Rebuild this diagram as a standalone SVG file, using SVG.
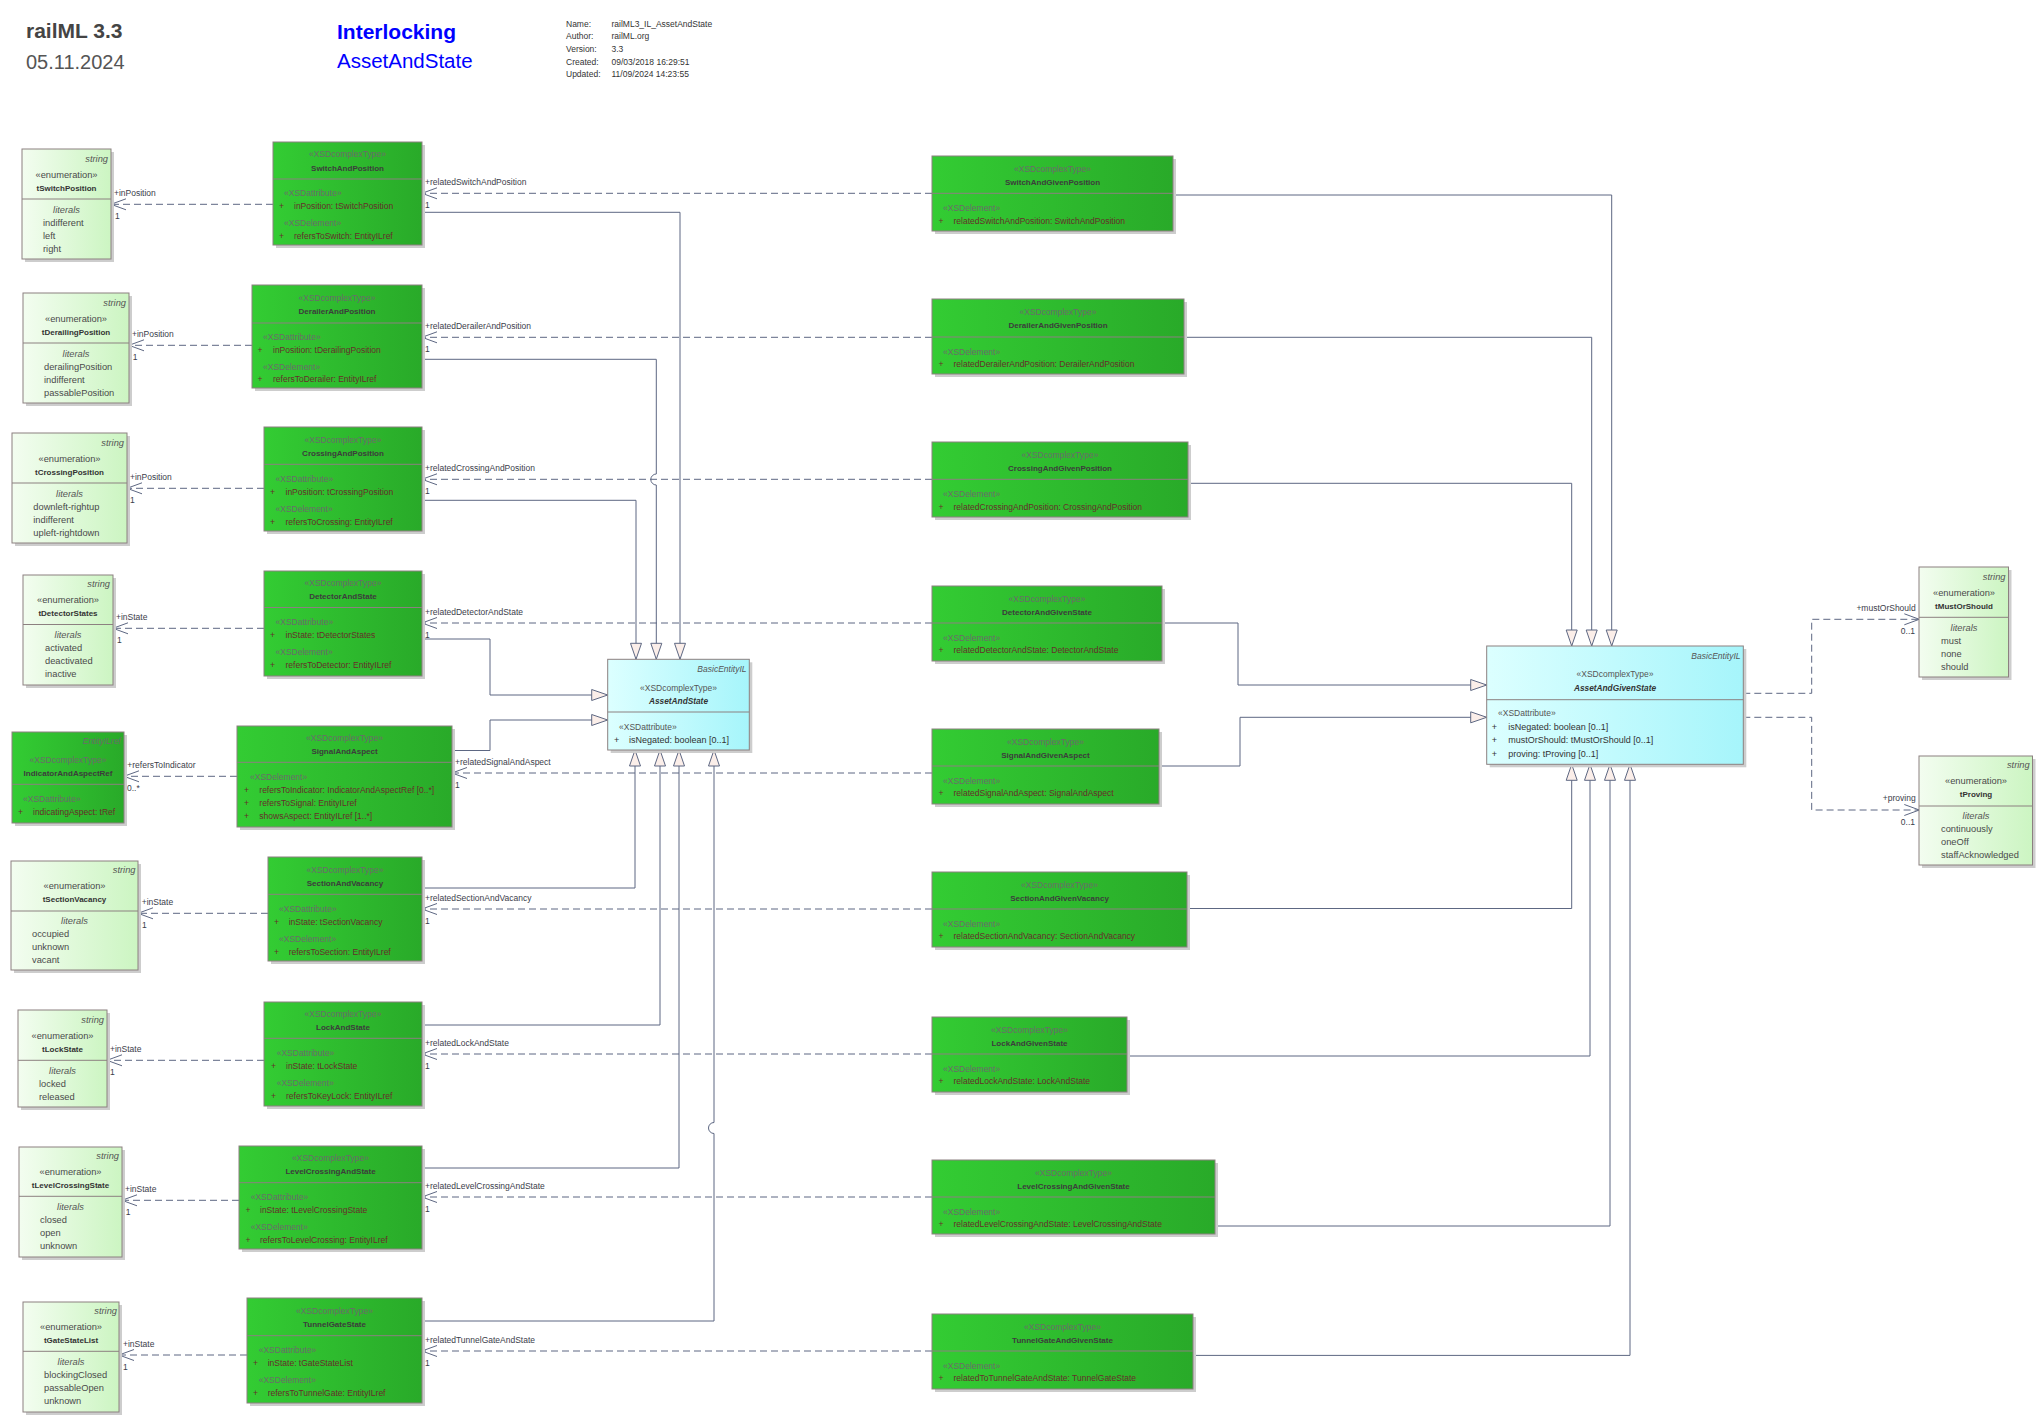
<svg xmlns="http://www.w3.org/2000/svg" width="2043" height="1422" viewBox="0 0 2043 1422">
<defs>
  <linearGradient id="gG" x1="0" y1="0" x2="1" y2="0">
    <stop offset="0" stop-color="#33cc33"/>
    <stop offset="1" stop-color="#29aa29"/>
  </linearGradient>
  <linearGradient id="gE" x1="0" y1="0" x2="1" y2="0">
    <stop offset="0" stop-color="#f3fdf0"/>
    <stop offset="1" stop-color="#ccf5c2"/>
  </linearGradient>
  <linearGradient id="gC" x1="0" y1="0" x2="1" y2="0">
    <stop offset="0" stop-color="#dcffff"/>
    <stop offset="1" stop-color="#a6f5fb"/>
  </linearGradient>
  <marker id="open" markerUnits="userSpaceOnUse" markerWidth="16" markerHeight="12" refX="15" refY="6" orient="auto" overflow="visible">
    <path d="M0,0.5 L15,6 L0,11.5" fill="none" stroke="#5d6782" stroke-width="1"/>
  </marker>
  <marker id="gen" markerUnits="userSpaceOnUse" markerWidth="16" markerHeight="12" refX="16" refY="5.5" orient="auto" overflow="visible">
    <path d="M0,0 L16,5.5 L0,11 Z" fill="#fbeee9" stroke="#5d6782" stroke-width="1"/>
  </marker>
  <style>
    text{font-family:"Liberation Sans",Arial,sans-serif}
    .sh{fill:#cdcdcd}
    .en{fill:url(#gE);stroke:#8c8080;stroke-width:1}
    .gr{fill:url(#gG);stroke:#8c8080;stroke-width:1}
    .cy{fill:url(#gC);stroke:#8c8080;stroke-width:1}
    .dv{stroke:#8c8080;stroke-width:1}
    .gs{font-size:8.5px;fill:#6b6b6b}
    .gn{font-size:8px;font-weight:bold;fill:#3c3c3c;text-anchor:middle}
    .ga{font-size:8.5px;fill:#662e2a}
    .c{text-anchor:middle}
    .r{text-anchor:end}
    .es{font-size:9.3px;fill:#555;font-style:italic}
    .et{font-size:9.3px;fill:#4a4a4a}
    .en2{font-size:8px;font-weight:bold;fill:#333;text-anchor:middle}
    .cs{font-size:8.5px;fill:#555}
    .cn{font-size:8.3px;font-weight:bold;font-style:italic;fill:#333;text-anchor:middle}
    .ct{font-size:9px;fill:#333}
    .lb{font-size:8.5px;fill:#3b3d4a}
    .dep{fill:none;stroke:#5d6782;stroke-width:1;stroke-dasharray:7 4;marker-end:url(#open)}
    .inh{fill:none;stroke:#5d6782;stroke-width:1;marker-end:url(#gen)}
    .hd1{font-size:21px;font-weight:bold;fill:#444}
    .hd2{font-size:20px;fill:#555}
    .hb1{font-size:21px;font-weight:bold;fill:#0000ff}
    .hb2{font-size:20.5px;fill:#0000ff}
    .inf{font-size:8.5px;fill:#333}
  </style>
</defs>
<rect width="2043" height="1422" fill="#ffffff"/>

<!-- title block -->
<g id="title">
  <text class="hd1" x="26" y="38">railML 3.3</text>
  <text class="hd2" x="26" y="69">05.11.2024</text>
  <text class="hb1" x="337" y="39">Interlocking</text>
  <text class="hb2" x="337" y="68">AssetAndState</text>
  <text class="inf" x="566" y="26.5">Name:</text><text class="inf" x="611.5" y="26.5">railML3_IL_AssetAndState</text>
  <text class="inf" x="566" y="38.5">Author:</text><text class="inf" x="611.5" y="38.5">railML.org</text>
  <text class="inf" x="566" y="51.5">Version:</text><text class="inf" x="611.5" y="51.5">3.3</text>
  <text class="inf" x="566" y="64.5">Created:</text><text class="inf" x="611.5" y="64.5">09/03/2018 16:29:51</text>
  <text class="inf" x="566" y="77">Updated:</text><text class="inf" x="611.5" y="77">11/09/2024 14:23:55</text>
</g>

<!-- connectors -->
<g id="connectors">
  <!-- attribute types (left) -->
  <path class="dep" d="M273,204.3 H111"/>
  <path class="dep" d="M252,345.3 H129"/>
  <path class="dep" d="M264,488.3 H127"/>
  <path class="dep" d="M264,628.3 H113"/>
  <path class="dep" d="M237,776.3 H124"/>
  <path class="dep" d="M268,913.3 H138"/>
  <path class="dep" d="M264,1060.3 H107"/>
  <path class="dep" d="M239,1200.3 H122"/>
  <path class="dep" d="M247,1355 H119"/>
  <!-- related elements -->
  <path class="dep" d="M932,193.3 H422"/>
  <path class="dep" d="M932,337.3 H422"/>
  <path class="dep" d="M932,479.3 H422"/>
  <path class="dep" d="M932,623 H422"/>
  <path class="dep" d="M932,773 H452"/>
  <path class="dep" d="M932,909 H422"/>
  <path class="dep" d="M932,1054 H422"/>
  <path class="dep" d="M932,1197 H422"/>
  <path class="dep" d="M932,1351 H422"/>
  <!-- right enumerations -->
  <path class="dep" d="M1743.3,693.3 H1811.7 V619.3 H1919.3"/>
  <path class="dep" d="M1743.3,717.3 H1811.7 V810 H1919.3"/>
  <!-- generalizations to AssetAndState (with line jumps) -->
  <path class="inh" d="M422,212.3 H680 V659.3"/>
  <path class="inh" d="M422,359.3 H656.3 V474 A5.5,5.5 0 0 0 656.3,485 V659.3"/>
  <path class="inh" d="M422,500.3 H636 V659.3"/>
  <path class="inh" d="M422,639 H490 V695 H607.7"/>
  <path class="inh" d="M452,750.5 H490 V720 H607.7"/>
  <path class="inh" d="M422,888 H635 V750"/>
  <path class="inh" d="M422,1025 H660 V750"/>
  <path class="inh" d="M422,1168 H679 V750"/>
  <path class="inh" d="M422,1321 H714 V1133.5 A5.5,5.5 0 0 1 714,1122.5 V750"/>
  <!-- generalizations to AssetAndGivenState -->
  <path class="inh" d="M1173,195 H1611.7 V646"/>
  <path class="inh" d="M1184,337.3 H1591.7 V646"/>
  <path class="inh" d="M1188,483.3 H1571.7 V646"/>
  <path class="inh" d="M1162,623 H1238 V685 H1486.7"/>
  <path class="inh" d="M1159,766 H1240 V717.3 H1486.7"/>
  <path class="inh" d="M1187,908.5 H1571.7 V764.3"/>
  <path class="inh" d="M1127,1056 H1590 V764.3"/>
  <path class="inh" d="M1215,1226 H1610 V764.3"/>
  <path class="inh" d="M1193,1355.4 H1630 V764.3"/>
  <!-- role labels -->
  <text class="lb" x="114" y="195.7">+inPosition</text><text class="lb" x="115" y="219">1</text>
  <text class="lb" x="132" y="336.7">+inPosition</text><text class="lb" x="132.7" y="360.3">1</text>
  <text class="lb" x="130" y="479.7">+inPosition</text><text class="lb" x="130" y="503">1</text>
  <text class="lb" x="116" y="620">+inState</text><text class="lb" x="117" y="643">1</text>
  <text class="lb" x="127.3" y="767.7">+refersToIndicator</text><text class="lb" x="127" y="791">0..*</text>
  <text class="lb" x="141.7" y="905">+inState</text><text class="lb" x="142" y="928">1</text>
  <text class="lb" x="110" y="1051.5">+inState</text><text class="lb" x="110" y="1075">1</text>
  <text class="lb" x="125" y="1191.7">+inState</text><text class="lb" x="125.7" y="1215">1</text>
  <text class="lb" x="123" y="1346.7">+inState</text><text class="lb" x="123" y="1369.7">1</text>
  <text class="lb" x="425" y="184.7">+relatedSwitchAndPosition</text><text class="lb" x="425" y="208">1</text>
  <text class="lb" x="425" y="328.7">+relatedDerailerAndPosition</text><text class="lb" x="425" y="352">1</text>
  <text class="lb" x="425" y="470.7">+relatedCrossingAndPosition</text><text class="lb" x="425" y="494">1</text>
  <text class="lb" x="425" y="615">+relatedDetectorAndState</text><text class="lb" x="425" y="638">1</text>
  <text class="lb" x="455" y="764.5">+relatedSignalAndAspect</text><text class="lb" x="455" y="788">1</text>
  <text class="lb" x="425" y="901.3">+relatedSectionAndVacancy</text><text class="lb" x="425" y="924">1</text>
  <text class="lb" x="425" y="1046">+relatedLockAndState</text><text class="lb" x="425" y="1068.7">1</text>
  <text class="lb" x="425" y="1189">+relatedLevelCrossingAndState</text><text class="lb" x="425" y="1212">1</text>
  <text class="lb" x="425" y="1343">+relatedTunnelGateAndState</text><text class="lb" x="425" y="1366.3">1</text>
  <text class="lb r" x="1915.7" y="610.7">+mustOrShould</text><text class="lb r" x="1915" y="634">0..1</text>
  <text class="lb r" x="1915.7" y="801.3">+proving</text><text class="lb r" x="1915" y="825.3">0..1</text>
</g>

<!-- enumerations, left column -->
<g id="tSwitchPosition">
  <rect class="sh" x="25" y="152" width="89" height="110"/>
  <rect class="en" x="22" y="149" width="89" height="110"/>
  <line class="dv" x1="22" y1="199" x2="111" y2="199"/>
  <text class="es r" x="108" y="162">string</text>
  <text class="et c" x="66.5" y="177.5">«enumeration»</text>
  <text class="en2" x="66.5" y="191">tSwitchPosition</text>
  <text class="es c" x="66.5" y="213">literals</text>
  <text class="et" x="43" y="226">indifferent</text>
  <text class="et" x="43" y="239">left</text>
  <text class="et" x="43" y="252">right</text>
</g>
<g id="tDerailingPosition">
  <rect class="sh" x="26" y="296" width="106" height="110"/>
  <rect class="en" x="23" y="293" width="106" height="110"/>
  <line class="dv" x1="23" y1="343" x2="129" y2="343"/>
  <text class="es r" x="126" y="305.7">string</text>
  <text class="et c" x="76" y="322">«enumeration»</text>
  <text class="en2" x="76" y="335">tDerailingPosition</text>
  <text class="es c" x="76" y="356.7">literals</text>
  <text class="et" x="44" y="370">derailingPosition</text>
  <text class="et" x="44" y="382.7">indifferent</text>
  <text class="et" x="44" y="395.7">passablePosition</text>
</g>
<g id="tCrossingPosition">
  <rect class="sh" x="15" y="436" width="115" height="110"/>
  <rect class="en" x="12" y="433" width="115" height="110"/>
  <line class="dv" x1="12" y1="483" x2="127" y2="483"/>
  <text class="es r" x="124" y="445.7">string</text>
  <text class="et c" x="69.5" y="462">«enumeration»</text>
  <text class="en2" x="69.5" y="474.7">tCrossingPosition</text>
  <text class="es c" x="69.5" y="496.7">literals</text>
  <text class="et" x="33.3" y="510">downleft-rightup</text>
  <text class="et" x="33.3" y="523">indifferent</text>
  <text class="et" x="33.3" y="536">upleft-rightdown</text>
</g>
<g id="tDetectorStates">
  <rect class="sh" x="26" y="578" width="90" height="110"/>
  <rect class="en" x="23" y="575" width="90" height="110"/>
  <line class="dv" x1="23" y1="624.5" x2="113" y2="624.5"/>
  <text class="es r" x="110" y="587">string</text>
  <text class="et c" x="68" y="603">«enumeration»</text>
  <text class="en2" x="68" y="616">tDetectorStates</text>
  <text class="es c" x="68" y="638">literals</text>
  <text class="et" x="45" y="651">activated</text>
  <text class="et" x="45" y="664">deactivated</text>
  <text class="et" x="45" y="677">inactive</text>
</g>
<g id="IndicatorAndAspectRef">
  <rect class="sh" x="15" y="735" width="112" height="91"/>
  <rect class="gr" x="12" y="732" width="112" height="91"/>
  <line class="dv" x1="12" y1="784.3" x2="124" y2="784.3"/>
  <text class="gs r" x="121" y="744" font-style="italic">EntityILref</text>
  <text class="gs c" x="68" y="763">«XSDcomplexType»</text>
  <text class="gn" x="68" y="775.7">IndicatorAndAspectRef</text>
  <text class="gs" x="23" y="802">«XSDattribute»</text>
  <text class="ga" x="18" y="815">+</text>
  <text class="ga" x="33" y="815">indicatingAspect: tRef</text>
</g>
<g id="tSectionVacancy">
  <rect class="sh" x="14" y="864" width="127" height="109"/>
  <rect class="en" x="11" y="861" width="127" height="109"/>
  <line class="dv" x1="11" y1="911" x2="138" y2="911"/>
  <text class="es r" x="135.5" y="873">string</text>
  <text class="et c" x="74.5" y="889">«enumeration»</text>
  <text class="en2" x="74.5" y="902">tSectionVacancy</text>
  <text class="es c" x="74.5" y="923.7">literals</text>
  <text class="et" x="32" y="936.7">occupied</text>
  <text class="et" x="32" y="949.7">unknown</text>
  <text class="et" x="32" y="962.7">vacant</text>
</g>
<g id="tLockState">
  <rect class="sh" x="21" y="1013" width="89" height="97"/>
  <rect class="en" x="18" y="1010" width="89" height="97"/>
  <line class="dv" x1="18" y1="1060.3" x2="107" y2="1060.3"/>
  <text class="es r" x="104" y="1023">string</text>
  <text class="et c" x="62.5" y="1039">«enumeration»</text>
  <text class="en2" x="62.5" y="1052">tLockState</text>
  <text class="es c" x="62.5" y="1073.7">literals</text>
  <text class="et" x="39" y="1086.7">locked</text>
  <text class="et" x="39" y="1099.7">released</text>
</g>
<g id="tLevelCrossingState">
  <rect class="sh" x="22" y="1150" width="103" height="110"/>
  <rect class="en" x="19" y="1147" width="103" height="110"/>
  <line class="dv" x1="19" y1="1196.3" x2="122" y2="1196.3"/>
  <text class="es r" x="119" y="1159">string</text>
  <text class="et c" x="70.5" y="1175">«enumeration»</text>
  <text class="en2" x="70.5" y="1188">tLevelCrossingState</text>
  <text class="es c" x="70.5" y="1209.7">literals</text>
  <text class="et" x="40" y="1223">closed</text>
  <text class="et" x="40" y="1236">open</text>
  <text class="et" x="40" y="1249">unknown</text>
</g>
<g id="tGateStateList">
  <rect class="sh" x="26" y="1305" width="96" height="110"/>
  <rect class="en" x="23" y="1302" width="96" height="110"/>
  <line class="dv" x1="23" y1="1351.3" x2="119" y2="1351.3"/>
  <text class="es r" x="117" y="1314">string</text>
  <text class="et c" x="71" y="1330">«enumeration»</text>
  <text class="en2" x="71" y="1343">tGateStateList</text>
  <text class="es c" x="71" y="1364.7">literals</text>
  <text class="et" x="44" y="1378">blockingClosed</text>
  <text class="et" x="44" y="1391">passableOpen</text>
  <text class="et" x="44" y="1404">unknown</text>
</g>

<!-- complex types, left column -->
<g id="SwitchAndPosition">
  <rect class="sh" x="276" y="145" width="149" height="103"/>
  <rect class="gr" x="273" y="142" width="149" height="103"/>
  <line class="dv" x1="273" y1="179" x2="422" y2="179"/>
  <text class="gs c" x="347.5" y="157">«XSDcomplexType»</text>
  <text class="gn" x="347.5" y="170.5">SwitchAndPosition</text>
  <text class="gs" x="284" y="196">«XSDattribute»</text>
  <text class="ga" x="279" y="209">+</text><text class="ga" x="294" y="209">inPosition: tSwitchPosition</text>
  <text class="gs" x="284" y="226">«XSDelement»</text>
  <text class="ga" x="279" y="239">+</text><text class="ga" x="294" y="239">refersToSwitch: EntityILref</text>
</g>
<g id="DerailerAndPosition">
  <rect class="sh" x="255" y="288" width="170" height="103"/>
  <rect class="gr" x="252" y="285" width="170" height="103"/>
  <line class="dv" x1="252" y1="323" x2="422" y2="323"/>
  <text class="gs c" x="337" y="300.5">«XSDcomplexType»</text>
  <text class="gn" x="337" y="314">DerailerAndPosition</text>
  <text class="gs" x="263" y="339.7">«XSDattribute»</text>
  <text class="ga" x="257.5" y="353">+</text><text class="ga" x="273" y="353">inPosition: tDerailingPosition</text>
  <text class="gs" x="263" y="369.7">«XSDelement»</text>
  <text class="ga" x="257.5" y="382.3">+</text><text class="ga" x="273" y="382.3">refersToDerailer: EntityILref</text>
</g>
<g id="CrossingAndPosition">
  <rect class="sh" x="267" y="430" width="158" height="104"/>
  <rect class="gr" x="264" y="427" width="158" height="104"/>
  <line class="dv" x1="264" y1="464.3" x2="422" y2="464.3"/>
  <text class="gs c" x="343" y="443">«XSDcomplexType»</text>
  <text class="gn" x="343" y="455.7">CrossingAndPosition</text>
  <text class="gs" x="275.5" y="481.7">«XSDattribute»</text>
  <text class="ga" x="270" y="494.7">+</text><text class="ga" x="285.5" y="494.7">inPosition: tCrossingPosition</text>
  <text class="gs" x="275.5" y="511.7">«XSDelement»</text>
  <text class="ga" x="270" y="524.7">+</text><text class="ga" x="285.5" y="524.7">refersToCrossing: EntityILref</text>
</g>
<g id="DetectorAndState">
  <rect class="sh" x="267" y="574" width="158" height="105"/>
  <rect class="gr" x="264" y="571" width="158" height="105"/>
  <line class="dv" x1="264" y1="607.5" x2="422" y2="607.5"/>
  <text class="gs c" x="343" y="586">«XSDcomplexType»</text>
  <text class="gn" x="343" y="599">DetectorAndState</text>
  <text class="gs" x="275.5" y="624.7">«XSDattribute»</text>
  <text class="ga" x="270" y="638">+</text><text class="ga" x="285.5" y="638">inState: tDetectorStates</text>
  <text class="gs" x="275.5" y="654.7">«XSDelement»</text>
  <text class="ga" x="270" y="668">+</text><text class="ga" x="285.5" y="668">refersToDetector: EntityILref</text>
</g>
<g id="SignalAndAspect">
  <rect class="sh" x="240" y="729" width="215" height="101"/>
  <rect class="gr" x="237" y="726" width="215" height="101"/>
  <line class="dv" x1="237" y1="762.3" x2="452" y2="762.3"/>
  <text class="gs c" x="344.5" y="740.7">«XSDcomplexType»</text>
  <text class="gn" x="344.5" y="754">SignalAndAspect</text>
  <text class="gs" x="250" y="779.7">«XSDelement»</text>
  <text class="ga" x="244" y="793">+</text><text class="ga" x="259.3" y="793">refersToIndicator: IndicatorAndAspectRef [0..*]</text>
  <text class="ga" x="244" y="806.3">+</text><text class="ga" x="259.3" y="806.3">refersToSignal: EntityILref</text>
  <text class="ga" x="244" y="819.3">+</text><text class="ga" x="259.3" y="819.3">showsAspect: EntityILref [1..*]</text>
</g>
<g id="SectionAndVacancy">
  <rect class="sh" x="271" y="860" width="154" height="104"/>
  <rect class="gr" x="268" y="857" width="154" height="104"/>
  <line class="dv" x1="268" y1="894.3" x2="422" y2="894.3"/>
  <text class="gs c" x="345" y="873">«XSDcomplexType»</text>
  <text class="gn" x="345" y="886">SectionAndVacancy</text>
  <text class="gs" x="279" y="912">«XSDattribute»</text>
  <text class="ga" x="274" y="925">+</text><text class="ga" x="288.7" y="925">inState: tSectionVacancy</text>
  <text class="gs" x="279" y="941.7">«XSDelement»</text>
  <text class="ga" x="274" y="954.7">+</text><text class="ga" x="288.7" y="954.7">refersToSection: EntityILref</text>
</g>
<g id="LockAndState">
  <rect class="sh" x="267" y="1005" width="158" height="104"/>
  <rect class="gr" x="264" y="1002" width="158" height="104"/>
  <line class="dv" x1="264" y1="1038.3" x2="422" y2="1038.3"/>
  <text class="gs c" x="343" y="1017">«XSDcomplexType»</text>
  <text class="gn" x="343" y="1030">LockAndState</text>
  <text class="gs" x="276.7" y="1056.3">«XSDattribute»</text>
  <text class="ga" x="271" y="1068.7">+</text><text class="ga" x="286" y="1068.7">inState: tLockState</text>
  <text class="gs" x="276.7" y="1085.7">«XSDelement»</text>
  <text class="ga" x="271" y="1098.7">+</text><text class="ga" x="286" y="1098.7">refersToKeyLock: EntityILref</text>
</g>
<g id="LevelCrossingAndState">
  <rect class="sh" x="242" y="1149" width="183" height="103"/>
  <rect class="gr" x="239" y="1146" width="183" height="103"/>
  <line class="dv" x1="239" y1="1182.7" x2="422" y2="1182.7"/>
  <text class="gs c" x="330.5" y="1161">«XSDcomplexType»</text>
  <text class="gn" x="330.5" y="1173.7">LevelCrossingAndState</text>
  <text class="gs" x="250.7" y="1199.7">«XSDattribute»</text>
  <text class="ga" x="245.5" y="1213">+</text><text class="ga" x="260" y="1213">inState: tLevelCrossingState</text>
  <text class="gs" x="250.7" y="1229.7">«XSDelement»</text>
  <text class="ga" x="245.5" y="1243">+</text><text class="ga" x="260" y="1243">refersToLevelCrossing: EntityILref</text>
</g>
<g id="TunnelGateState">
  <rect class="sh" x="250" y="1301" width="175" height="105"/>
  <rect class="gr" x="247" y="1298" width="175" height="105"/>
  <line class="dv" x1="247" y1="1335.7" x2="422" y2="1335.7"/>
  <text class="gs c" x="334.5" y="1314">«XSDcomplexType»</text>
  <text class="gn" x="334.5" y="1327">TunnelGateState</text>
  <text class="gs" x="258.7" y="1353">«XSDattribute»</text>
  <text class="ga" x="253" y="1366">+</text><text class="ga" x="267.7" y="1366">inState: tGateStateList</text>
  <text class="gs" x="258.7" y="1383">«XSDelement»</text>
  <text class="ga" x="253" y="1396">+</text><text class="ga" x="267.7" y="1396">refersToTunnelGate: EntityILref</text>
</g>

<!-- abstract bases -->
<g id="AssetAndState">
  <rect class="sh" x="610.7" y="662.3" width="141.6" height="90.7"/>
  <rect class="cy" x="607.7" y="659.3" width="141.6" height="90.7"/>
  <line class="dv" x1="607.7" y1="712" x2="749.3" y2="712"/>
  <text class="cs r" x="746.5" y="672" font-style="italic">BasicEntityIL</text>
  <text class="cs c" x="678.5" y="691.3">«XSDcomplexType»</text>
  <text class="cn" x="678.5" y="704">AssetAndState</text>
  <text class="cs" x="619" y="730.3">«XSDattribute»</text>
  <text class="ct" x="614" y="743">+</text><text class="ct" x="629" y="743">isNegated: boolean [0..1]</text>
</g>
<g id="AssetAndGivenState">
  <rect class="sh" x="1489.7" y="649" width="256.6" height="118.3"/>
  <rect class="cy" x="1486.7" y="646" width="256.6" height="118.3"/>
  <line class="dv" x1="1486.7" y1="699.7" x2="1743.3" y2="699.7"/>
  <text class="cs r" x="1740.5" y="659" font-style="italic">BasicEntityIL</text>
  <text class="cs c" x="1615" y="677.3">«XSDcomplexType»</text>
  <text class="cn" x="1615" y="690.7">AssetAndGivenState</text>
  <text class="cs" x="1498" y="716.3">«XSDattribute»</text>
  <text class="ct" x="1491.7" y="730.3">+</text><text class="ct" x="1508.3" y="730.3">isNegated: boolean [0..1]</text>
  <text class="ct" x="1491.7" y="743.3">+</text><text class="ct" x="1508.3" y="743.3">mustOrShould: tMustOrShould [0..1]</text>
  <text class="ct" x="1491.7" y="756.7">+</text><text class="ct" x="1508.3" y="756.7">proving: tProving [0..1]</text>
</g>

<!-- complex types, right column -->
<g id="SwitchAndGivenPosition">
  <rect class="sh" x="935" y="159" width="241" height="75"/>
  <rect class="gr" x="932" y="156" width="241" height="75"/>
  <line class="dv" x1="932" y1="193.3" x2="1173" y2="193.3"/>
  <text class="gs c" x="1052.5" y="172">«XSDcomplexType»</text>
  <text class="gn" x="1052.5" y="185">SwitchAndGivenPosition</text>
  <text class="gs" x="943" y="211">«XSDelement»</text>
  <text class="ga" x="938.5" y="223.7">+</text><text class="ga" x="953.5" y="223.7">relatedSwitchAndPosition: SwitchAndPosition</text>
</g>
<g id="DerailerAndGivenPosition">
  <rect class="sh" x="935" y="302" width="252" height="75"/>
  <rect class="gr" x="932" y="299" width="252" height="75"/>
  <line class="dv" x1="932" y1="337" x2="1184" y2="337"/>
  <text class="gs c" x="1058" y="315">«XSDcomplexType»</text>
  <text class="gn" x="1058" y="328">DerailerAndGivenPosition</text>
  <text class="gs" x="943" y="354.7">«XSDelement»</text>
  <text class="ga" x="938.5" y="367.4">+</text><text class="ga" x="953.5" y="367.4">relatedDerailerAndPosition: DerailerAndPosition</text>
</g>
<g id="CrossingAndGivenPosition">
  <rect class="sh" x="935" y="445" width="256" height="75"/>
  <rect class="gr" x="932" y="442" width="256" height="75"/>
  <line class="dv" x1="932" y1="479.3" x2="1188" y2="479.3"/>
  <text class="gs c" x="1060" y="458">«XSDcomplexType»</text>
  <text class="gn" x="1060" y="471">CrossingAndGivenPosition</text>
  <text class="gs" x="943" y="497">«XSDelement»</text>
  <text class="ga" x="938.5" y="509.7">+</text><text class="ga" x="953.5" y="509.7">relatedCrossingAndPosition: CrossingAndPosition</text>
</g>
<g id="DetectorAndGivenState">
  <rect class="sh" x="935" y="589" width="230" height="75"/>
  <rect class="gr" x="932" y="586" width="230" height="75"/>
  <line class="dv" x1="932" y1="623" x2="1162" y2="623"/>
  <text class="gs c" x="1047" y="602">«XSDcomplexType»</text>
  <text class="gn" x="1047" y="615">DetectorAndGivenState</text>
  <text class="gs" x="943" y="640.7">«XSDelement»</text>
  <text class="ga" x="938.5" y="653.4">+</text><text class="ga" x="953.5" y="653.4">relatedDetectorAndState: DetectorAndState</text>
</g>
<g id="SignalAndGivenAspect">
  <rect class="sh" x="935" y="732" width="227" height="75"/>
  <rect class="gr" x="932" y="729" width="227" height="75"/>
  <line class="dv" x1="932" y1="766" x2="1159" y2="766"/>
  <text class="gs c" x="1045.5" y="745">«XSDcomplexType»</text>
  <text class="gn" x="1045.5" y="758">SignalAndGivenAspect</text>
  <text class="gs" x="943" y="783.7">«XSDelement»</text>
  <text class="ga" x="938.5" y="796.4">+</text><text class="ga" x="953.5" y="796.4">relatedSignalAndAspect: SignalAndAspect</text>
</g>
<g id="SectionAndGivenVacancy">
  <rect class="sh" x="935" y="875" width="255" height="75"/>
  <rect class="gr" x="932" y="872" width="255" height="75"/>
  <line class="dv" x1="932" y1="909" x2="1187" y2="909"/>
  <text class="gs c" x="1059.5" y="888">«XSDcomplexType»</text>
  <text class="gn" x="1059.5" y="901">SectionAndGivenVacancy</text>
  <text class="gs" x="943" y="926.7">«XSDelement»</text>
  <text class="ga" x="938.5" y="939.4">+</text><text class="ga" x="953.5" y="939.4">relatedSectionAndVacancy: SectionAndVacancy</text>
</g>
<g id="LockAndGivenState">
  <rect class="sh" x="935" y="1020" width="195" height="75"/>
  <rect class="gr" x="932" y="1017" width="195" height="75"/>
  <line class="dv" x1="932" y1="1054" x2="1127" y2="1054"/>
  <text class="gs c" x="1029.5" y="1033">«XSDcomplexType»</text>
  <text class="gn" x="1029.5" y="1046">LockAndGivenState</text>
  <text class="gs" x="943" y="1071.7">«XSDelement»</text>
  <text class="ga" x="938.5" y="1084.4">+</text><text class="ga" x="953.5" y="1084.4">relatedLockAndState: LockAndState</text>
</g>
<g id="LevelCrossingAndGivenState">
  <rect class="sh" x="935" y="1163" width="283" height="74"/>
  <rect class="gr" x="932" y="1160" width="283" height="74"/>
  <line class="dv" x1="932" y1="1197" x2="1215" y2="1197"/>
  <text class="gs c" x="1073.5" y="1176">«XSDcomplexType»</text>
  <text class="gn" x="1073.5" y="1189">LevelCrossingAndGivenState</text>
  <text class="gs" x="943" y="1214.7">«XSDelement»</text>
  <text class="ga" x="938.5" y="1227.4">+</text><text class="ga" x="953.5" y="1227.4">relatedLevelCrossingAndState: LevelCrossingAndState</text>
</g>
<g id="TunnelGateAndGivenState">
  <rect class="sh" x="935" y="1317" width="261" height="75"/>
  <rect class="gr" x="932" y="1314" width="261" height="75"/>
  <line class="dv" x1="932" y1="1351" x2="1193" y2="1351"/>
  <text class="gs c" x="1062.5" y="1330">«XSDcomplexType»</text>
  <text class="gn" x="1062.5" y="1343">TunnelGateAndGivenState</text>
  <text class="gs" x="943" y="1368.7">«XSDelement»</text>
  <text class="ga" x="938.5" y="1381.4">+</text><text class="ga" x="953.5" y="1381.4">relatedToTunnelGateAndState: TunnelGateState</text>
</g>

<!-- enumerations, right column -->
<g id="tMustOrShould">
  <rect class="sh" x="1922" y="570" width="89.5" height="110"/>
  <rect class="en" x="1919" y="567" width="89.5" height="110"/>
  <line class="dv" x1="1919" y1="617.3" x2="2008.5" y2="617.3"/>
  <text class="es r" x="2005.5" y="579.7">string</text>
  <text class="et c" x="1964" y="595.7">«enumeration»</text>
  <text class="en2" x="1964" y="608.7">tMustOrShould</text>
  <text class="es c" x="1964" y="631">literals</text>
  <text class="et" x="1941" y="643.7">must</text>
  <text class="et" x="1941" y="657">none</text>
  <text class="et" x="1941" y="669.7">should</text>
</g>
<g id="tProving">
  <rect class="sh" x="1922" y="759" width="113.5" height="109"/>
  <rect class="en" x="1919" y="756" width="113.5" height="109"/>
  <line class="dv" x1="1919" y1="806" x2="2032.5" y2="806"/>
  <text class="es r" x="2029.7" y="768">string</text>
  <text class="et c" x="1976" y="783.7">«enumeration»</text>
  <text class="en2" x="1976" y="796.7">tProving</text>
  <text class="es c" x="1976" y="819">literals</text>
  <text class="et" x="1941" y="832">continuously</text>
  <text class="et" x="1941" y="845">oneOff</text>
  <text class="et" x="1941" y="858">staffAcknowledged</text>
</g>
</svg>
